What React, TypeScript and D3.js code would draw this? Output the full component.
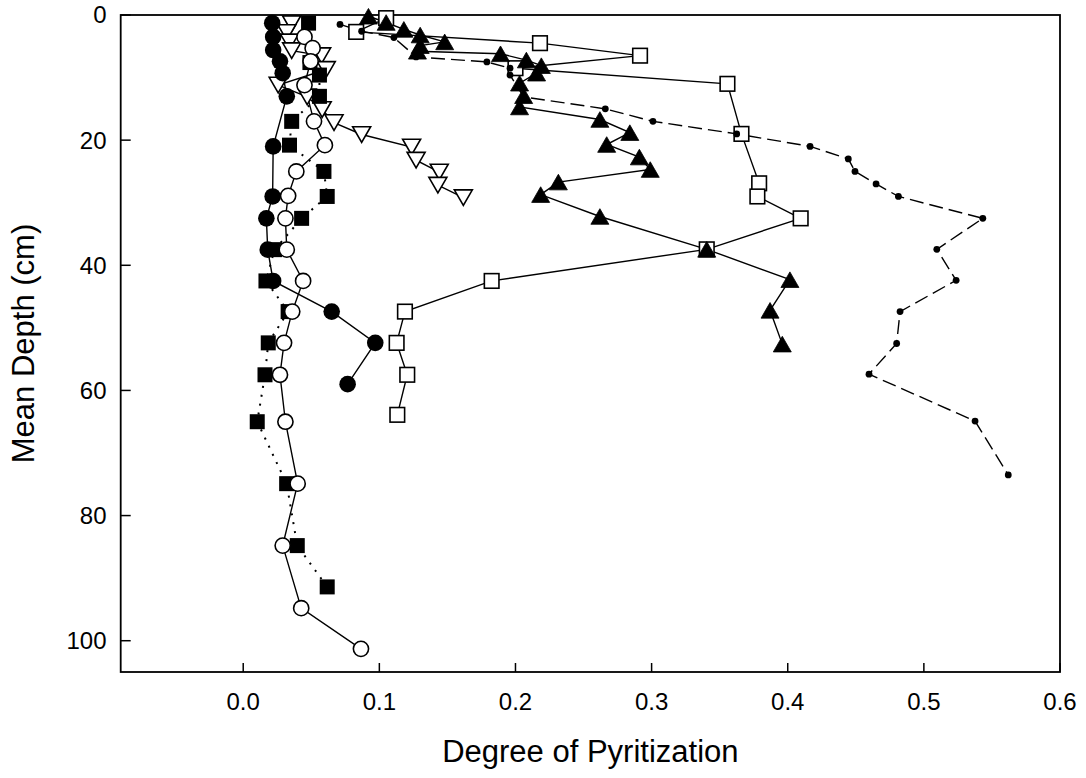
import React from 'react';
import * as d3 from 'd3';

// Degree of pyritization (x) vs mean depth (cm) for each core
const filledCircleDOP = [0.0213, 0.022, 0.022, 0.027, 0.029, 0.032, 0.022, 0.0216, 0.017, 0.018, 0.022, 0.065, 0.097, 0.0767];
const filledCircleDepth = [1.3, 3.5, 5.6, 7.4, 9.3, 13.0, 21.0, 29.0, 32.5, 37.5, 42.5, 47.4, 52.4, 59.0];

const openCircleDOP = [0.045, 0.051, 0.0495, 0.045, 0.052, 0.060, 0.039, 0.033, 0.031, 0.032, 0.044, 0.036, 0.030, 0.027, 0.031, 0.040, 0.029, 0.0426, 0.0865];
const openCircleDepth = [3.5, 5.3, 7.4, 11.2, 17.0, 20.8, 25.0, 28.9, 32.5, 37.5, 42.5, 47.4, 52.4, 57.5, 65.0, 74.9, 84.8, 94.8, 101.3];

const filledSquareDOP = [0.048, 0.049, 0.056, 0.056, 0.0356, 0.034, 0.0593, 0.0617, 0.0429, 0.023, 0.0167, 0.033, 0.0184, 0.016, 0.0103, 0.0319, 0.0397, 0.0617];
const filledSquareDepth = [1.3, 7.6, 9.6, 13.0, 17.0, 20.8, 25.0, 29.0, 32.5, 37.5, 42.5, 47.4, 52.4, 57.5, 65.0, 74.9, 84.8, 91.4];

const invTriangleDOP = [0.0356, 0.032, 0.034, 0.0356, 0.0576, 0.061, 0.0257, 0.047, 0.058, 0.0667, 0.087, 0.1237, 0.127, 0.144, 0.143, 0.1617];
const invTriangleDepth = [1.4, 2.8, 4.3, 5.7, 6.5, 8.7, 11.2, 13.1, 15.1, 17.2, 19.1, 21.1, 23.2, 25.1, 27.2, 29.2];

const openSquareDOP = [0.105, 0.083, 0.218, 0.2915, 0.2, 0.3557, 0.366, 0.379, 0.3777, 0.4095, 0.3405, 0.1825, 0.1188, 0.1127, 0.1205, 0.1132];
const openSquareDepth = [0.5, 2.7, 4.5, 6.5, 8.5, 11.0, 19.0, 26.9, 29.0, 32.5, 37.45, 42.5, 47.4, 52.4, 57.5, 63.9];

const filledTriangleDOP = [0.092, 0.105, 0.118, 0.13, 0.148, 0.13, 0.128, 0.189, 0.208, 0.219, 0.2155, 0.203, 0.206, 0.203, 0.262, 0.284, 0.267, 0.291, 0.299, 0.2315, 0.2185, 0.262, 0.3405, 0.4016, 0.387, 0.396];
const filledTriangleDepth = [0.2, 1.2, 2.3, 3.2, 4.3, 4.9, 5.8, 6.2, 7.2, 8.1, 9.3, 10.9, 12.9, 14.7, 16.7, 18.8, 20.7, 22.7, 24.7, 26.7, 28.7, 32.2, 37.45, 42.3, 47.2, 52.6];

const dashedDOP = [0.0711, 0.087, 0.1107, 0.127, 0.179, 0.196, 0.196, 0.206, 0.266, 0.301, 0.3625, 0.4164, 0.4445, 0.4494, 0.4649, 0.4813, 0.5433, 0.5095, 0.5237, 0.4825, 0.48, 0.4597, 0.5376, 0.562];
const dashedDepth = [1.5, 2.6, 3.6, 6.7, 7.5, 8.5, 9.6, 13.1, 15.0, 17.0, 19.0, 21.0, 23.0, 25.0, 27.0, 29.0, 32.5, 37.45, 42.4, 47.4, 52.5, 57.4, 64.9, 73.5];

const xTicks = [0.0, 0.1, 0.2, 0.3, 0.4, 0.5, 0.6];
const yTicks = [0, 20, 40, 60, 80, 100];

const W = 1086;
const H = 778;
const FONT = "'Liberation Sans', Arial, Helvetica, sans-serif";

type Pt = [number, number];
const zip = (xs: number[], ys: number[]): Pt[] => xs.map((v, i) => [v, ys[i]]);

export default function App() {
  const x = d3.scaleLinear().domain([-0.09, 0.6]).range([120.7, 1060]);
  const y = d3.scaleLinear().domain([0, 105]).range([15, 672]);
  const line = d3.line<Pt>().x(d => x(d[0])).y(d => y(d[1]));

  const fc = zip(filledCircleDOP, filledCircleDepth);
  const oc = zip(openCircleDOP, openCircleDepth);
  const fs = zip(filledSquareDOP, filledSquareDepth);
  const it = zip(invTriangleDOP, invTriangleDepth);
  const os = zip(openSquareDOP, openSquareDepth);
  const ft = zip(filledTriangleDOP, filledTriangleDepth);
  const ds = zip(dashedDOP, dashedDepth);

  const sq = 7.3;
  const triW = 9;
  const triH = 7.8;
  const upTri = (cx: number, cy: number) =>
    `M${cx},${cy - triH}L${cx + triW},${cy + triH}L${cx - triW},${cy + triH}Z`;
  const downTri = (cx: number, cy: number) =>
    `M${cx - triW},${cy - triH}L${cx + triW},${cy - triH}L${cx},${cy + triH}Z`;

  const lw = 1.4;
  const ow = 1.6;

  return (
    <svg width={W} height={H} viewBox={`0 0 ${W} ${H}`}
      style={{ position: 'absolute', left: 0, top: 0, background: '#fff' }}
      fontFamily={FONT}>
      <rect x={0} y={0} width={W} height={H} fill="#fff" />

      {/* frame */}
      <rect x={x(-0.09)} y={y(0)} width={x(0.6) - x(-0.09)} height={y(105) - y(0)}
        fill="none" stroke="#000" strokeWidth={1.8} />

      {/* x ticks */}
      {xTicks.map(t => (
        <g key={'xt' + t}>
          <line x1={x(t)} x2={x(t)} y1={y(105)} y2={y(105) - 9} stroke="#000" strokeWidth={1.5} />
          <text x={x(t)} y={710} fontSize={24} textAnchor="middle" fill="#000">{d3.format('.1f')(t)}</text>
        </g>
      ))}
      {/* y ticks */}
      {yTicks.map(t => (
        <g key={'yt' + t}>
          <line x1={x(-0.09)} x2={x(-0.09) + 10} y1={y(t)} y2={y(t)} stroke="#000" strokeWidth={1.5} />
          <text x={106.5} y={y(t)} dy="0.35em" fontSize={24} textAnchor="end" fill="#000">{t}</text>
        </g>
      ))}

      <text x={(x(-0.09) + x(0.6)) / 2} y={762} fontSize={31} textAnchor="middle" fill="#000">Degree of Pyritization</text>
      <text transform={`translate(34,${(y(0) + y(105)) / 2}) rotate(-90)`} fontSize={31} textAnchor="middle" fill="#000">Mean Depth (cm)</text>

      {/* lines */}
      <path d={line(os) || ''} fill="none" stroke="#000" strokeWidth={lw} />
      <path d={line(it) || ''} fill="none" stroke="#000" strokeWidth={lw} />
      <path d={line(fs) || ''} fill="none" stroke="#000" strokeWidth={2} strokeDasharray="2 7" />
      <path d={line(oc) || ''} fill="none" stroke="#000" strokeWidth={lw} />
      <path d={line(fc) || ''} fill="none" stroke="#000" strokeWidth={lw} />
      <path d={line(ft) || ''} fill="none" stroke="#000" strokeWidth={lw} />
      <path d={line(ds) || ''} fill="none" stroke="#000" strokeWidth={lw} strokeDasharray="14 6" />

      {/* markers */}
      {os.map((d, i) => (
        <rect key={'os' + i} x={x(d[0]) - sq} y={y(d[1]) - sq} width={2 * sq} height={2 * sq}
          fill="#fff" stroke="#000" strokeWidth={ow} />
      ))}
      {it.map((d, i) => (
        <path key={'it' + i} d={downTri(x(d[0]), y(d[1]))} fill="#fff" stroke="#000" strokeWidth={ow} />
      ))}
      {fs.map((d, i) => (
        <rect key={'fs' + i} x={x(d[0]) - 7.5} y={y(d[1]) - 7.5} width={15} height={15} fill="#000" />
      ))}
      {oc.map((d, i) => (
        <circle key={'oc' + i} cx={x(d[0])} cy={y(d[1])} r={7.6} fill="#fff" stroke="#000" strokeWidth={ow} />
      ))}
      {fc.map((d, i) => (
        <circle key={'fc' + i} cx={x(d[0])} cy={y(d[1])} r={8.3} fill="#000" />
      ))}
      {ft.map((d, i) => (
        <path key={'ft' + i} d={upTri(x(d[0]), y(d[1]))} fill="#000" stroke="#000" strokeWidth={0.8} />
      ))}
      {ds.map((d, i) => (
        <circle key={'ds' + i} cx={x(d[0])} cy={y(d[1])} r={3.4} fill="#000" />
      ))}
    </svg>
  );
}
